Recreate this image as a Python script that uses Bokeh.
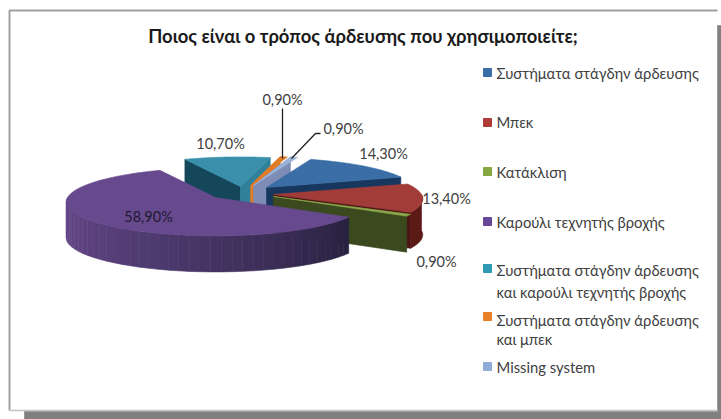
import math
from bokeh.plotting import figure
from bokeh.embed import file_html
from bokeh.resources import INLINE
from bokeh.core.properties import value as bv

# ---- data ----
title_text = "Ποιος είναι ο τρόπος άρδευσης που χρησιμοποιείτε;"
categories = ["Συστήματα στάγδην άρδευσης", "Μπεκ", "Κατάκλιση", "Καρούλι τεχνητής βροχής",
              "Συστήματα στάγδην άρδευσης και καρούλι τεχνητής βροχής",
              "Συστήματα στάγδην άρδευσης και μπεκ", "Missing system"]
values = [14.3, 13.4, 0.9, 58.9, 10.7, 0.9, 0.9]
value_labels = ["14,30%", "13,40%", "0,90%", "58,90%", "10,70%", "0,90%", "0,90%"]

# ---- styling / layout ----
FONT = "Lato"
W, H = 721, 419
top_colors = ["#3b6ea6", "#a23c39", "#8aa84a", "#67498e", "#3a90aa", "#e07b26", "#9ab4d8"]
legend_colors = ["#3b6ea6", "#b03c38", "#84a83f", "#67469a", "#2f9ab5", "#e8802a", "#8fabd6"]
legend_lines = [["Συστήματα στάγδην άρδευσης"], ["Μπεκ"], ["Κατάκλιση"], ["Καρούλι τεχνητής βροχής"],
                ["Συστήματα στάγδην άρδευσης", "και καρούλι τεχνητής βροχής"],
                ["Συστήματα στάγδην άρδευσης", "και μπεκ"], ["Missing system"]]
legend_y = [[72], [121], [171], [221], [269, 291], [319, 338], [366]]
legend_sq = [72, 122, 171, 221, 268, 316, 366]
apex = [(266, 187), (273, 194), (273, 196), (215, 197), (240, 186), (250, 185), (253, 185)]
label_xy = [(383, 153), (446, 198), (436, 261), (148, 216), (220, 143), (282, 99), (343, 128)]
label_colors = ["#404040", "#404040", "#404040", "#1f1a33", "#404040", "#404040", "#404040"]
RX, RY, K, D = 148, 34, 0.13, 36

def pt(i, th, d=0):
    s = 1 - K * math.sin(th)
    return (apex[i][0] + RX * s * math.cos(th), apex[i][1] - RY * s * math.sin(th) + d)

def arc(i, a, b, d=0, n=40):
    return [pt(i, a + (b - a) * k / n, d) for k in range(n + 1)]

def mix(c1, c2, t):
    a = [int(c1[j:j + 2], 16) for j in (1, 3, 5)]
    b = [int(c2[j:j + 2], 16) for j in (1, 3, 5)]
    return "#%02x%02x%02x" % tuple(round(a[j] + (b[j] - a[j]) * t) for j in range(3))

p = figure(width=W, height=H, x_range=(0, 721), y_range=(419, 0), output_backend="svg",
           toolbar_location=None, min_border=0, outline_line_color=None)
p.axis.visible = False
p.grid.visible = False
p.background_fill_color = "white"
p.border_fill_color = "white"

def poly(pts, color, line=None):
    p.patch([q[0] for q in pts], [q[1] for q in pts], fill_color=color,
            line_color=line or color, line_width=0.6)

# frame and drop shadow
poly([(24, 411), (721, 411), (721, 419), (24, 419)], "#808080")
poly([(717, 25), (721, 25), (721, 411), (717, 411)], "#808080")
p.line([9, 9, 717], [410, 10, 10], line_color="#a0a0a0", line_width=2)
p.line([9, 717], [410, 410], line_color="#c4c4c4", line_width=1.5)

# slice angles, clockwise from the first slice's start
a0 = math.radians(70.2)
edges = [a0]
for v in values:
    edges.append(edges[-1] - v / 100 * 2 * math.pi)

def side(i, th, color):
    poly([apex[i], pt(i, th), pt(i, th, D), (apex[i][0], apex[i][1] + D)], color)

def top(i):
    poly([apex[i]] + arc(i, edges[i], edges[i + 1]), top_colors[i])

# teal
side(4, edges[4], "#15475a")
side(4, edges[5], "#2e8199")
top(4)
# orange
side(5, edges[5], "#e07b26")
top(5)
# light blue
side(6, edges[6], "#7d8db5")
top(6)
# blue
side(0, edges[1], "#17375e")
top(0)
# red
side(1, edges[2], "#4a1512")
outer = arc(1, 0.0, edges[2])
poly(outer + [(q[0], q[1] + D) for q in reversed(outer)], "#5c1a17")
top(1)
# green
side(2, edges[3], "#3a4a1e")
top(2)
# purple: wall with a left-to-right shading, then the top face
wall_a, wall_b = -math.pi, edges[3]
N = 40
for k in range(N):
    a = wall_a + (wall_b - wall_a) * k / N
    b = wall_a + (wall_b - wall_a) * (k + 1) / N
    col = mix("#67498c", "#282240", (k / (N - 1)) ** 1.2)
    poly([pt(3, a), pt(3, b), pt(3, b, D), pt(3, a, D)], col)
top(3)

# leader lines
p.line([282, 282], [108, 158], line_color="#222222", line_width=1.3)
p.line([291, 315, 320], [158, 133, 133], line_color="#222222", line_width=1.3)

def txt(x, y, s, size, color="#404040", align="center", style="normal"):
    p.text([x], [y], text=[s], text_font=bv(FONT), text_font_size=f"{size}px", text_color=color,
           text_align=align, text_baseline="middle", text_font_style=style)

# title
txt(362.5, 35, title_text, 18.4, "#1a1a1a", style="bold")

# data labels
for (x, y), s, c in zip(label_xy, value_labels, label_colors):
    txt(x, y, s, 14.5, c)

# legend
for col, sq, lines, ys in zip(legend_colors, legend_sq, legend_lines, legend_y):
    p.scatter([487], [sq], marker="square", size=8, fill_color=col, line_color=col)
    for s, y in zip(lines, ys):
        txt(496, y, s, 14.8, align="left")

open("out.html", "w").write(file_html(p, INLINE))
